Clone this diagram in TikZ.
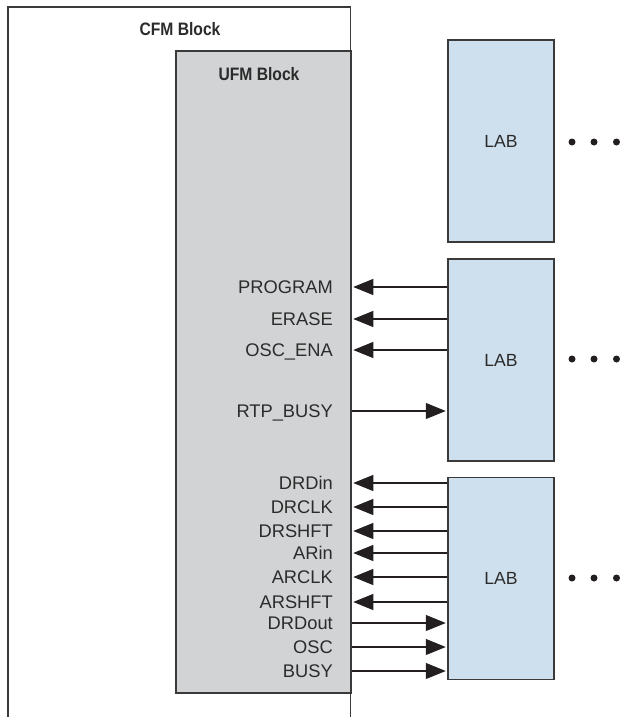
\documentclass[tikz,border=0pt]{standalone}
\usepackage{fontspec}
\setmainfont{Liberation Sans}
\usetikzlibrary{arrows.meta}
\definecolor{edge}{HTML}{3A3A3A}
\definecolor{ink}{HTML}{231F20}
\definecolor{ufmfill}{HTML}{D1D3D4}
\definecolor{labfill}{HTML}{CEE0EE}
\definecolor{txt}{HTML}{2B2B2B}
\tikzset{
  title/.style={font=\fontsize{18}{20}\selectfont\bfseries, text=txt, inner sep=0pt},
  sig/.style={font=\fontsize{18.3}{20}\selectfont, text=txt, inner sep=0pt, anchor=east, text height=13pt, text depth=0pt},
  labbox/.style={draw=edge, line width=1.5pt, fill=labfill, minimum width=106pt, minimum height=202pt, inner sep=0pt, font=\fontsize{17.6}{20}\selectfont, text=txt},
  ufmbox/.style={draw=edge, line width=1.5pt, fill=ufmfill, minimum width=175pt, minimum height=642pt, inner sep=0pt},
  dot/.style={circle, fill=ink, inner sep=0pt, minimum size=7pt},
  sigarrow/.style={draw=ink, line width=1.1pt, -{Triangle[length=20pt,width=16pt]}, shorten >=1.5pt},
}
\begin{document}
\begin{tikzpicture}[x=1pt,y=-1pt]
\useasboundingbox (0,0) rectangle (619,717);
% CFM block (open at the bottom)
\draw[edge, line width=1.5pt] (8,717) -- (8,7) -- (350.5,7) -- (350.5,717);
\node[title] (cfmt) at (180,29) {\scalebox{0.87}[1]{CFM Block}};
% UFM block
\node[ufmbox] (ufm) at (263.5,372) {};
\node[title] (ufmt) at (259,74) {\scalebox{0.87}[1]{UFM Block}};
% LABs
\node[labbox] (lab1) at (501,141) {LAB};
\node[labbox] (lab2) at (501,360) {LAB};
\node[labbox] (lab3) at (501,578.5) {LAB};
% dots
\foreach \n/\y in {1/142,2/359,3/578}{
  \node[dot] (d\n a) at (572,\y) {};
  \node[dot] (d\n b) at (594,\y) {};
  \node[dot] (d\n c) at (616.5,\y) {};
}
% signals of LAB 2
\node[sig] (program) at (333,287) {PROGRAM};
\node[sig] (erase) at (333,319) {ERASE};
\node[sig] (oscena) at (333,350) {OSC\_ENA};
\node[sig] (rtpbusy) at (333,411) {RTP\_BUSY};
\foreach \s in {program,erase,oscena}
  \draw[sigarrow] (lab2.west |- \s.east) -- (ufm.east |- \s.east);
\draw[sigarrow] (ufm.east |- rtpbusy.east) -- (lab2.west |- rtpbusy.east);
% signals of LAB 3
\node[sig] (drdin) at (333,483) {DRDin};
\node[sig] (drclk) at (333,507) {DRCLK};
\node[sig] (drshft) at (333,531) {DRSHFT};
\node[sig] (arin) at (333,553) {ARin};
\node[sig] (arclk) at (333,577) {ARCLK};
\node[sig] (arshft) at (333,602) {ARSHFT};
\node[sig] (drdout) at (333,623) {DRDout};
\node[sig] (osc) at (333,647) {OSC};
\node[sig] (busy) at (333,671) {BUSY};
\foreach \s in {drdin,drclk,drshft,arin,arclk,arshft}
  \draw[sigarrow] (lab3.west |- \s.east) -- (ufm.east |- \s.east);
\foreach \s in {drdout,osc,busy}
  \draw[sigarrow] (ufm.east |- \s.east) -- (lab3.west |- \s.east);
\end{tikzpicture}
\end{document}
